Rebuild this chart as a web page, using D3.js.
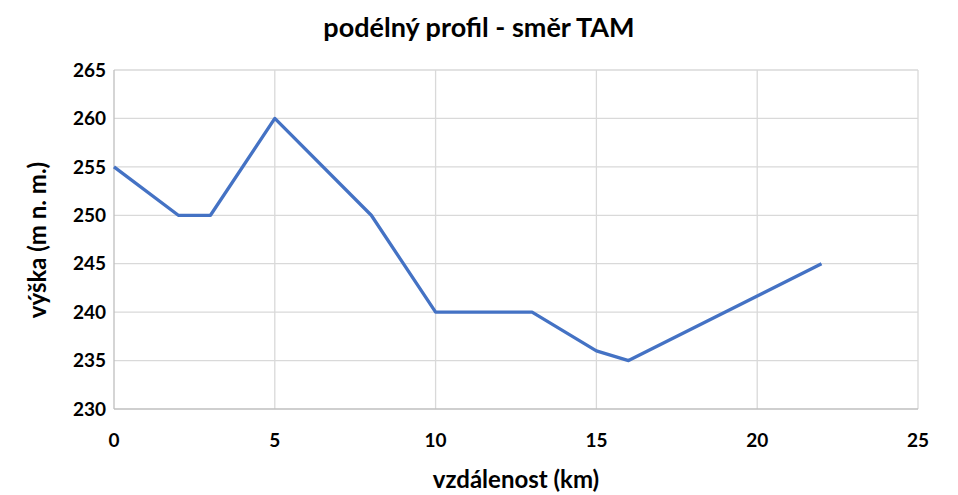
<!DOCTYPE html>
<html><head><meta charset="utf-8">
<script src="https://cdn.jsdelivr.net/npm/d3@7"></script>
<style>body{margin:0;background:#fff;} text{font-family:Lato,"Open Sans",sans-serif;font-weight:bold;fill:#000;}</style>
</head><body>
<svg id="c" width="958" height="495"></svg>
<script>
const xValues = [0, 2, 3, 5, 8, 10, 13, 15, 16, 22];
const yValues = [255, 250, 250, 260, 250, 240, 240, 236, 235, 245];
const xTicks = [0, 5, 10, 15, 20, 25];
const yTicks = [230, 235, 240, 245, 250, 255, 260, 265];
const title = "podélný profil - směr TAM";
const xTitle = "vzdálenost (km)";
const yTitle = "výška (m n. m.)";

const svg = d3.select("#c");
const L = 114, R = 918, T = 70, B = 409;
const x = d3.scaleLinear().domain([0, 25]).range([L, R]);
const y = d3.scaleLinear().domain([230, 265]).range([B, T]);

svg.append("g").selectAll("line.gy").data(yTicks.slice(1)).join("line")
  .attr("x1", L).attr("x2", R).attr("y1", d => y(d)).attr("y2", d => y(d))
  .attr("stroke", "#d9d9d9").attr("stroke-width", 1.3);
svg.append("g").selectAll("line.gx").data(xTicks.slice(1)).join("line")
  .attr("y1", T).attr("y2", B).attr("x1", d => x(d)).attr("x2", d => x(d))
  .attr("stroke", "#d9d9d9").attr("stroke-width", 1.3);
svg.append("line").attr("x1", L).attr("x2", R).attr("y1", B).attr("y2", B).attr("stroke", "#bfbfbf").attr("stroke-width", 1.3);
svg.append("line").attr("x1", L).attr("x2", L).attr("y1", T).attr("y2", B).attr("stroke", "#bfbfbf").attr("stroke-width", 1.3);

svg.append("g").selectAll("text").data(yTicks).join("text")
  .attr("x", L - 8).attr("y", d => y(d)).attr("dy", "0.35em").attr("text-anchor", "end")
  .attr("font-size", 19).text(d => d);
svg.append("g").selectAll("text").data(xTicks).join("text")
  .attr("x", d => x(d)).attr("y", 447).attr("text-anchor", "middle")
  .attr("font-size", 19).text(d => d);

const pts = xValues.map((v, i) => [v, yValues[i]]);
svg.append("path").datum(pts)
  .attr("d", d3.line().x(d => x(d[0])).y(d => y(d[1])))
  .attr("fill", "none").attr("stroke", "#4472c4").attr("stroke-width", 3.3).attr("stroke-linejoin", "round");

svg.append("text").attr("x", 479).attr("y", 37).attr("text-anchor", "middle").attr("font-size", 27).text(title);
svg.append("text").attr("x", 516).attr("y", 488).attr("text-anchor", "middle").attr("font-size", 24).text(xTitle);
svg.append("text").attr("transform", "translate(46,240) rotate(-90)").attr("text-anchor", "middle").attr("font-size", 24).text(yTitle);
</script>
</body></html>
